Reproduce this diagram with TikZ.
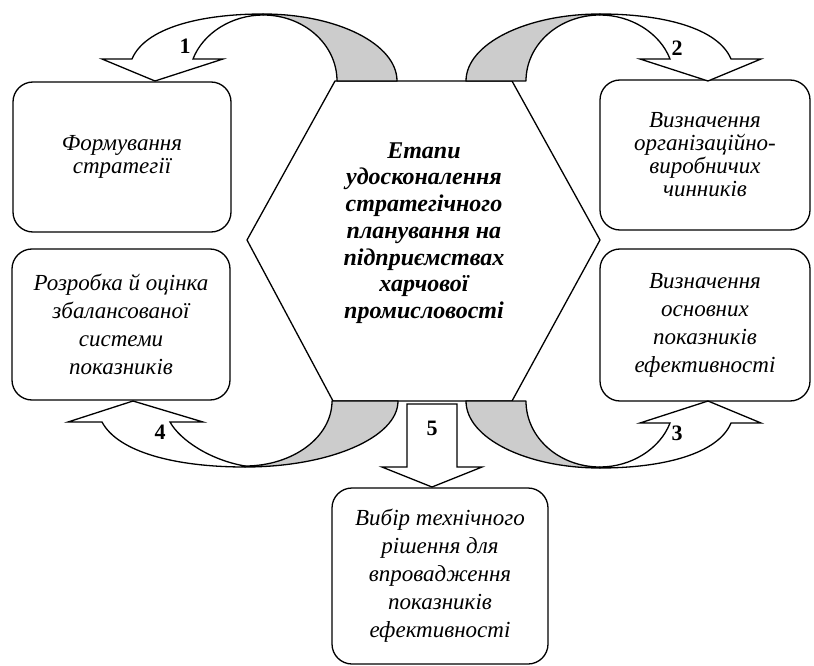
\documentclass[tikz,border=0pt]{standalone}
\usepackage{fontspec}
\setmainfont{Liberation Serif}
\usepackage{tikz}

\definecolor{tailgray}{HTML}{CCCCCC}

\tikzset{
  panel/.style={draw, line width=1.3pt, rounded corners=20pt, align=center,
    inner sep=0pt, font=\fontsize{23}{23}\selectfont\itshape},
  widepanel/.style={panel, font=\fontsize{23}{28}\selectfont\itshape},
  ribbon/.style={draw, line width=1.3pt, fill=tailgray, line join=round},
  arrowface/.style={draw, line width=1.3pt, fill=white, line join=miter},
  steplabel/.style={font=\fontsize{22}{26}\selectfont\bfseries, inner sep=0pt}
}

\begin{document}
\begin{tikzpicture}[x=1pt, y=-1pt]
        \useasboundingbox (0,0) rectangle (814,666);

        % hexagon in the middle
        \draw[line width=1.3pt, line join=miter] (335,81) -- (512,81) -- (600,240) -- (512,401) -- (333,401) -- (247,240) -- cycle;
        \node[align=center, inner sep=0pt, font=\fontsize{24}{26.7}\selectfont\bfseries\itshape] (hub) at (424,233)
            {Етапи\\ удосконалення\\ стратегічного\\ планування на\\ підприємствах\\ харчової\\ промисловості};

        % stage boxes
        \node[panel, minimum width=218pt, minimum height=150pt] (form) at (122,157) {Формування\\ стратегії};
        \node[panel, minimum width=210pt, minimum height=150pt] (factors) at (705,155) {Визначення\\ організаційно-\\ виробничих\\ чинників};
        \node[widepanel, minimum width=210pt, minimum height=152pt] (kpi) at (705,325) {Визначення\\ основних\\ показників\\ ефективності};
        \node[widepanel, minimum width=218pt, minimum height=151pt] (bsc) at (121,324.5) {Розробка й оцінка\\ збалансованої\\ системи\\ показників};
        \node[widepanel, minimum width=216pt, minimum height=176pt] (tech) at (440,576) {Вибір технічного\\ рішення для\\ впровадження\\ показників\\ ефективності};

        % arrow 1 (top left)
        \draw[ribbon] (263,14) .. controls (337,14) and (397,44) .. (397,81) -- (337,81)
            .. controls (337,44.5) and (304,15) .. (263,15) -- cycle;
        \draw[arrowface] (102,59) -- (132,59) .. controls (145,28) and (200,14) .. (263,14) -- (263,15)
            .. controls (232,15) and (203,33) .. (193,59) -- (223,59) -- (155,81) -- cycle;

        % arrow 2 (top right)
        \draw[ribbon] (600,14) .. controls (526,14) and (466,44) .. (466,81) -- (526,81)
            .. controls (526,44.5) and (559,15) .. (600,15) -- cycle;
        \draw[arrowface] (761,59) -- (731,59) .. controls (718,28) and (663,14) .. (600,14) -- (600,15)
            .. controls (631,15) and (660,33) .. (670,59) -- (640,59) -- (708,81) -- cycle;

        % arrow 3 (bottom right)
        \draw[ribbon] (600,468) .. controls (526,468) and (466,438) .. (466,401) -- (526,401)
            .. controls (526,437.5) and (559,467) .. (600,467) -- cycle;
        \draw[arrowface] (761,423) -- (731,423) .. controls (718,454) and (663,468) .. (600,468) -- (600,467)
            .. controls (631,467) and (660,449) .. (670,423) -- (640,423) -- (708,401) -- cycle;

        % arrow 4 (bottom left)
        \draw[ribbon] (245,467) .. controls (329.5,467) and (398,437.5) .. (398,401) -- (332,401)
            .. controls (332,437) and (293,466) .. (245,466) -- cycle;
        \draw[arrowface] (68,422) -- (102,422) .. controls (118,452) and (175,467) .. (245,467) -- (245,466)
            .. controls (210,460) and (180,440) .. (170,422) -- (203,422) -- (133,401) -- cycle;

        % arrow 5 (straight down)
        \draw[arrowface] (407,404) -- (457,404) -- (457,467) -- (482,467) -- (432,487) -- (382,467) -- (407,467) -- cycle;

        % numbers
        \node[steplabel] (n1) at (185,46) {1};
        \node[steplabel] (n2) at (677,48) {2};
        \node[steplabel] (n3) at (677,433) {3};
        \node[steplabel] (n4) at (160,432) {4};
        \node[steplabel] (n5) at (432,428) {5};
    \end{tikzpicture}
\end{document}
